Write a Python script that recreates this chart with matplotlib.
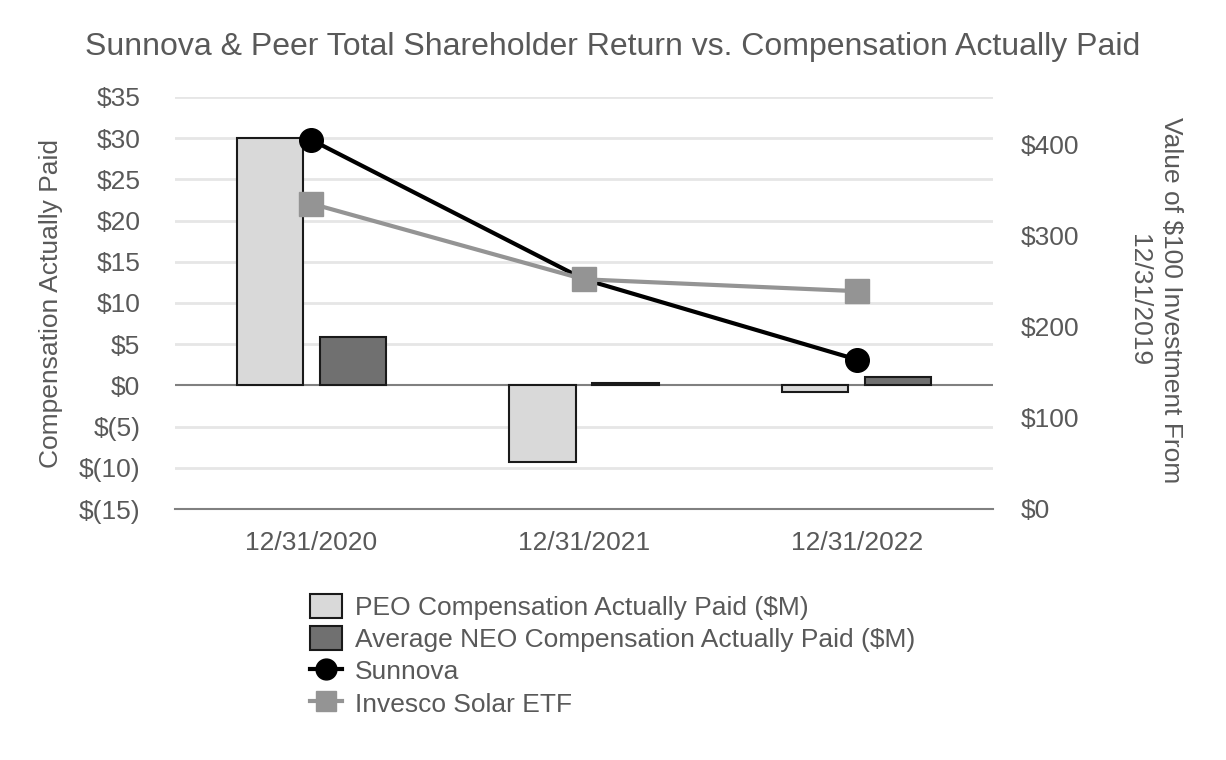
import numpy as np
import matplotlib.pyplot as plt
from matplotlib.patches import Patch
from matplotlib.lines import Line2D

plt.rcParams["font.family"] = ["Liberation Sans", "DejaVu Sans"]

years = ["12/31/2020", "12/31/2021", "12/31/2022"]
peo_cap = [30.0, -9.35, -0.78]
neo_cap = [5.9, 0.25, 1.0]
sunnova = [405, 252, 164]
invesco = [335, 252, 239]

left_ticks = [-15, -10, -5, 0, 5, 10, 15, 20, 25, 30, 35]
right_ticks = [0, 100, 200, 300, 400]

text_c = "#595959"
fs = 19


def money(v):
    return f"$({abs(v)})" if v < 0 else f"${v}"


fig = plt.figure(figsize=(12.26, 7.6), dpi=100)
ax = fig.add_axes([175 / 1226, 1 - 509 / 760, 818 / 1226, 412 / 760])
ax2 = ax.twinx()

x = np.arange(len(years))
w = 0.244
off = 0.152

# bars on left axis
ax.bar(x - off, peo_cap, w, color="#d9d9d9", edgecolor="#1a1a1a", linewidth=1.5, zorder=3)
ax.bar(x + off, neo_cap, w, color="#707070", edgecolor="#1a1a1a", linewidth=1.5, zorder=3)

ax.set_xlim(-0.5, 2.5)
ax.set_ylim(-15, 35)
ax.set_yticks(left_ticks)
ax.set_yticklabels([money(v) for v in left_ticks])
ax.set_xticks(x)
ax.set_xticklabels(years)
for t in left_ticks:
    if t not in (0, -15):
        ax.axhline(t, color="#e6e6e6", linewidth=2, zorder=0)
ax.axhline(0, color="#808080", linewidth=1.5, zorder=2)

for s in ["top", "right", "left"]:
    ax.spines[s].set_visible(False)
ax.spines["bottom"].set_color("#808080")
ax.spines["bottom"].set_linewidth(1.5)
ax.tick_params(axis="y", length=0, pad=25, labelsize=fs, labelcolor=text_c)
ax.tick_params(axis="x", length=0, pad=15.5, labelsize=fs, labelcolor=text_c)
ax.set_ylabel("Compensation Actually Paid", fontsize=fs, color=text_c, labelpad=11)

# lines on right axis
ax2.plot(x, sunnova, color="black", linewidth=3, marker="o", markersize=17, zorder=4)
ax2.plot(x, invesco, color="#949494", linewidth=3, marker="s", markersize=17, zorder=5)
ax2.set_ylim(0, 452)
ax2.set_yticks(right_ticks)
ax2.set_yticklabels([f"${v}" for v in right_ticks])
for s in ["top", "right", "left", "bottom"]:
    ax2.spines[s].set_visible(False)
ax2.tick_params(axis="y", length=0, pad=20, labelsize=fs, labelcolor=text_c)

# right axis title, two rotated lines
fig.text(1171 / 1226, 1 - 300 / 760, "Value of $100 Investment From", rotation=270,
         ha="center", va="center", fontsize=fs, color=text_c)
fig.text(1139 / 1226, 1 - 300 / 760, "12/31/2019", rotation=270,
         ha="center", va="center", fontsize=fs, color=text_c)

fig.suptitle("Sunnova & Peer Total Shareholder Return vs. Compensation Actually Paid",
             fontsize=23, color=text_c, y=0.958)

handles = [
    Patch(facecolor="#d9d9d9", edgecolor="#1a1a1a", linewidth=1.5),
    Patch(facecolor="#707070", edgecolor="#1a1a1a", linewidth=1.5),
    Line2D([], [], color="black", linewidth=3, marker="o", markersize=15),
    Line2D([], [], color="#949494", linewidth=3, marker="s", markersize=15),
]
labels = ["PEO Compensation Actually Paid ($M)", "Average NEO Compensation Actually Paid ($M)",
          "Sunnova", "Invesco Solar ETF"]
leg = fig.legend(handles, labels, loc="upper center", bbox_to_anchor=(0.5, 0.232), frameon=False,
                 fontsize=fs, handlelength=1.2, handleheight=1.0, handletextpad=0.5,
                 labelspacing=0.24, borderaxespad=0)
for t in leg.get_texts():
    t.set_color(text_c)

fig.savefig("out.png", dpi=100)
